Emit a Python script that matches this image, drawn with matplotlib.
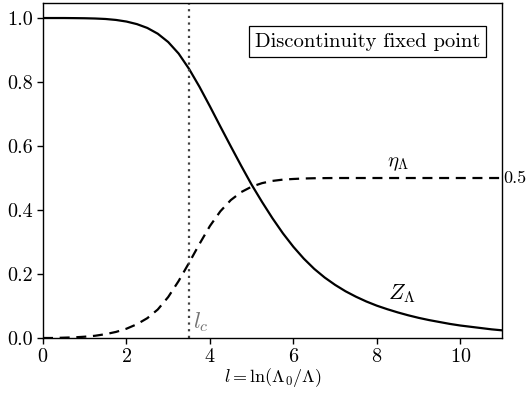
import numpy as np
import matplotlib
matplotlib.use("Agg")
import matplotlib.pyplot as plt
import matplotlib.transforms as mtransforms

plt.rcParams["font.family"] = "serif"
plt.rcParams["font.serif"] = ["cmr10", "DejaVu Serif"]
plt.rcParams["mathtext.fontset"] = "cm"
plt.rcParams["axes.formatter.use_mathtext"] = True

# RG flow l = ln(Lambda_0/Lambda), sampled every 0.25
l_grid = np.arange(0, 11.0001, 0.25)

z_lambda = [
    1.000, 1.000, 1.000, 0.9997, 0.9993, 0.9985, 0.997, 0.994, 0.989, 0.981,
    0.969, 0.951, 0.925, 0.889, 0.841, 0.785, 0.724, 0.661, 0.599, 0.538,
    0.479, 0.425, 0.374, 0.327, 0.285, 0.248, 0.216, 0.189, 0.166, 0.146,
    0.129, 0.114, 0.101, 0.090, 0.080, 0.071, 0.063, 0.056, 0.050, 0.044,
    0.039, 0.035, 0.031, 0.027, 0.024,
]

eta_lambda = [
    0.000, 0.000, 0.001, 0.002, 0.004, 0.007, 0.012, 0.019, 0.029, 0.043,
    0.062, 0.089, 0.128, 0.178, 0.235, 0.294, 0.350, 0.396, 0.431, 0.456,
    0.473, 0.484, 0.491, 0.495, 0.497, 0.4985, 0.4993, 0.4997, 0.500, 0.500,
    0.500, 0.500, 0.500, 0.500, 0.500, 0.500, 0.500, 0.500, 0.500, 0.500,
    0.500, 0.500, 0.500, 0.500, 0.500,
]

l_c = 3.5
eta_limit = 0.5

fig = plt.figure(figsize=(5.27, 3.99), dpi=100)
ax = fig.add_axes([0.0816, 0.1529, 0.8710, 0.8396])

ax.plot(l_grid, z_lambda, color="black", lw=1.6)
ax.plot(l_grid, eta_lambda, color="black", lw=1.6, ls=(0, (4.5, 3)))
ax.axvline(l_c, color="0.25", lw=1.6, ls=(0, (1, 2)))

ax.set_xlim(0, 11)
ax.set_ylim(0, 1.047)
ax.set_xticks([0, 2, 4, 6, 8, 10])
ax.set_yticks([0.0, 0.2, 0.4, 0.6, 0.8, 1.0])
ax.set_yticklabels(["0.0", "0.2", "0.4", "0.6", "0.8", "1.0"])
ax.tick_params(labelsize=14.5, length=4, width=1, pad=3)
for s in ax.spines.values():
    s.set_linewidth(1.0)

ax.set_xlabel(r"$l = \ln(\Lambda_0/\Lambda)$", fontsize=13, labelpad=0)

ax.text(8.5, 0.545, r"$\eta_\Lambda$", fontsize=15, ha="center", va="center")
ax.text(8.6, 0.14, r"$Z_\Lambda$", fontsize=16, ha="center", va="center")
ax.text(l_c + 0.1, 0.05, r"$l_c$", fontsize=16.5, color="0.45",
        ha="left", va="center")

trans = mtransforms.blended_transform_factory(ax.transAxes, ax.transData)
ax.text(1.003, eta_limit, "0.5", transform=trans, fontsize=13,
        ha="left", va="center", clip_on=False)

ax.text(0.707, 0.885, "Discontinuity fixed point", transform=ax.transAxes,
        fontsize=14.8, ha="center", va="center",
        bbox=dict(boxstyle="square,pad=0.3", fc="white", ec="black", lw=0.9))

fig.savefig("out.png", dpi=100)
